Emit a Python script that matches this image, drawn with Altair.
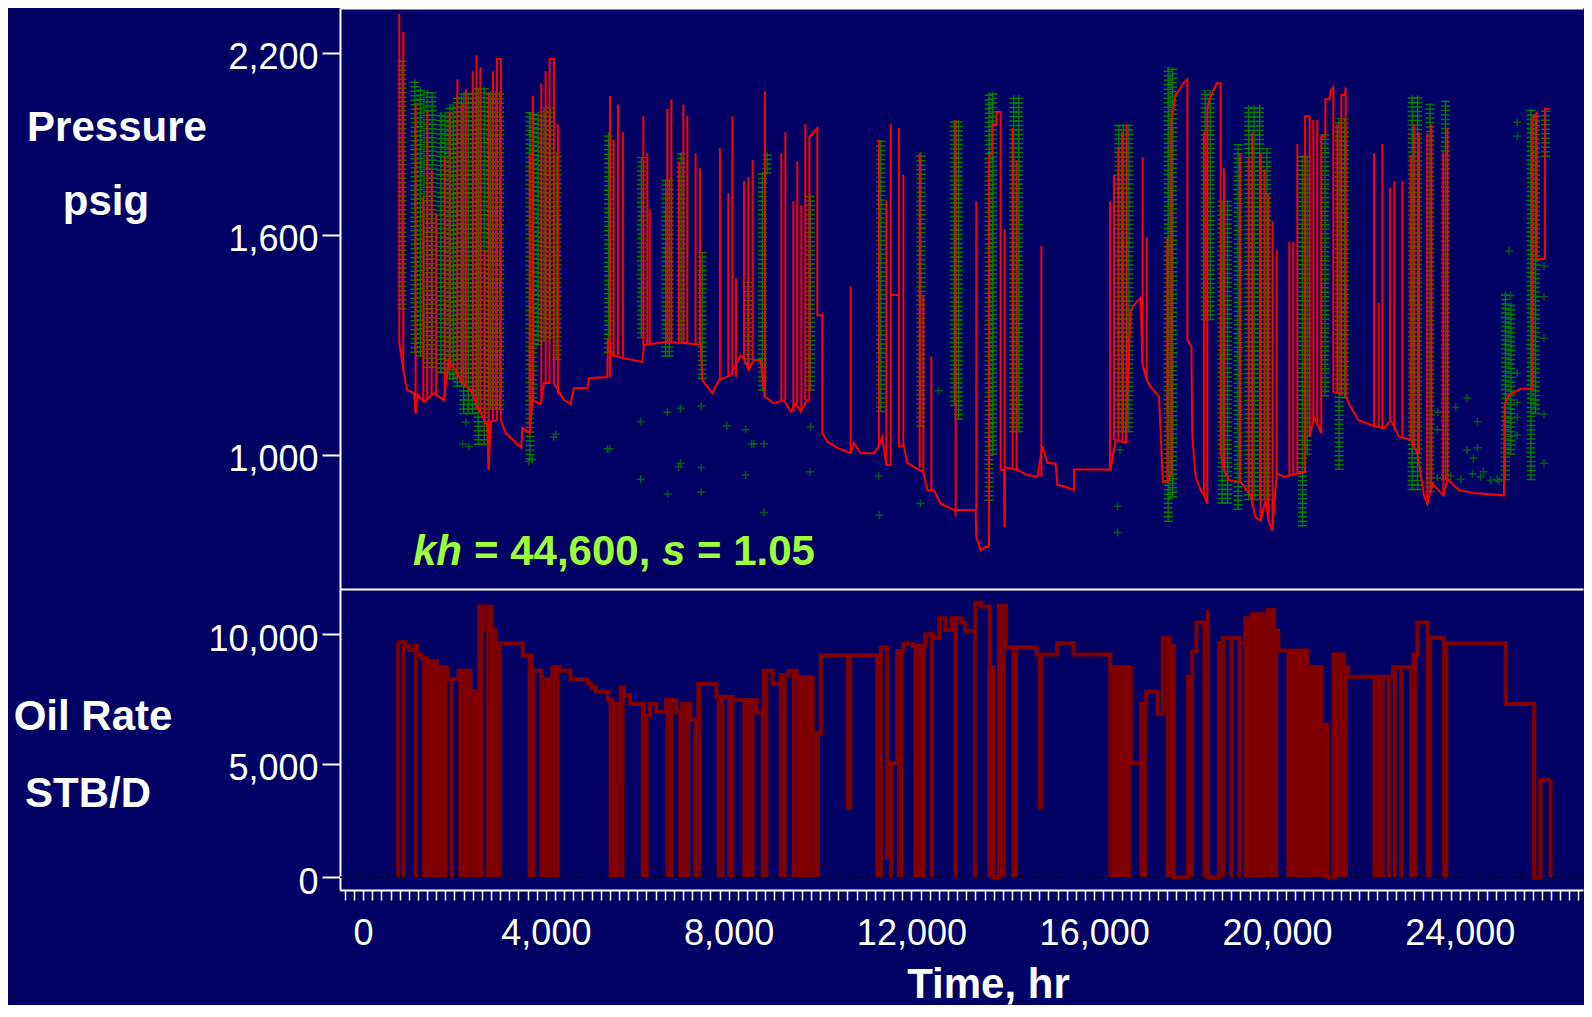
import altair as alt
import pandas as pd

# ---------------- data (time in hr, pressure in psig, rate in STB/D) ----------------
# red model pressure path
press_t = [784, 880, 967, 1112, 1149, 1200, 1331, 1550, 1769, 1878,
           2025, 2171, 2353, 2535, 2718, 2747, 2791, 2928, 2928, 3015,
           3015, 3119, 3462, 3484, 3651, 3703, 3885, 3958, 4082, 4082,
           4176, 4176, 4395, 4542, 4614, 4907, 4942, 5345, 5358, 5454,
           5708, 6111, 6146, 6658, 7022, 7387, 7424, 7643, 7788, 8044,
           8262, 8350, 8437, 8554, 8700, 8788, 8992, 9211, 9357, 9466,
           9576, 9722, 9766, 9766, 9850, 9941, 9941, 10050, 10050, 10160,
           10379, 10670, 10743, 10889, 11181, 11268, 11363, 11451, 11546, 11546,
           11727, 11727, 11837, 11911, 12093, 12261, 12349, 12493, 12640, 12931,
           13406, 13421, 13516, 13625, 13697, 13697, 13770, 13770, 13860, 13860,
           13954, 13954, 14030, 14041, 14052, 14319, 14538, 14757, 14866, 14976,
           15158, 15194, 15340, 15557, 15560, 16361, 16470, 16690, 16726, 16799,
           16908, 17018, 17055, 17150, 17237, 17418, 17505, 17601, 17689, 17689,
           17783, 17952, 18039, 18039, 18127, 18149, 18221, 18331, 18402, 18477,
           18477, 18560, 18681, 18769, 18769, 18841, 18950, 19206, 19425, 19534,
           19644, 19753, 19826, 19900, 19994, 20154, 20447, 20613, 20613, 20716,
           20716, 20812, 20970, 20970, 21060, 21060, 21150, 21177, 21235, 21235,
           21410, 21410, 21490, 21504, 21504, 21614, 21774, 22052, 22344, 22490,
           22672, 22928, 23073, 23219, 23292, 23401, 23642, 23730, 23984, 24350,
           24969, 24984, 25079, 25335, 25591, 25591, 25686, 25686, 25866, 25866,
           25954]
press_p = [1295, 1214, 1162, 1154, 1103, 1150, 1131, 1154, 1136, 1241,
           1214, 1180, 1162, 1111, 1073, 964, 1081, 1085, 2178, 2178,
           1086, 1053, 1017, 1066, 1053, 1136, 1126, 1180, 1180, 2178,
           2178, 1180, 1136, 1126, 1167, 1167, 1193, 1196, 1298, 1254,
           1246, 1236, 1282, 1290, 1287, 1282, 1188, 1154, 1188, 1201,
           1254, 1241, 1214, 1241, 1241, 1145, 1128, 1136, 1107, 1128,
           1107, 1136, 1136, 1910, 1925, 1940, 1364, 1364, 1053, 1032,
           1017, 1004, 1029, 1004, 1004, 1017, 1044, 976, 976, 1421,
           1421, 1021, 1021, 981, 969, 959, 917, 917, 886, 872,
           872, 812, 784, 791, 791, 1845, 1860, 1953, 1953, 1994,
           1994, 964, 964, 834, 970, 964, 952, 948, 1021, 981,
           979, 929, 926, 917, 965, 965, 1036, 1029, 1154, 1378,
           1399, 1413, 1233, 1188, 1171, 1145, 936, 936, 955, 1967,
           2052, 2093, 2107, 1295, 1278, 1044, 948, 917, 905, 886,
           2010, 2050, 2093, 2093, 1004, 964, 940, 936, 905, 855,
           848, 894, 844, 827, 955, 948, 955, 959, 1980, 1980,
           1044, 1094, 1053, 1913, 1913, 2038, 2038, 2069, 2079, 1158,
           1150, 2052, 2052, 2079, 1145, 1119, 1086, 1073, 1065, 1086,
           1044, 1036, 1004, 905, 886, 932, 905, 943, 917, 910,
           905, 1124, 1149, 1165, 1165, 1967, 1990, 1526, 1526, 2005,
           2005]

# red build-up spikes (time, bottom, top)
spike_t = [792, 880, 1149, 1318, 1405, 1500, 1600, 1782, 1895, 2063,
           2159, 2246, 2400, 2481, 2568, 2662, 2747, 2841, 3646, 3717,
           3900, 3994, 4264, 5402, 5483, 5577, 5686, 6133, 6220, 6271,
           6658, 6746, 6912, 7008, 7096, 7277, 7372, 7809, 7993, 8081,
           8160, 8335, 8431, 8525, 8794, 9153, 9241, 9416, 9503, 9591,
           9678, 10670, 11289, 11451, 11546, 11727, 11823, 12180, 12261, 12436,
           12968, 13421, 14041, 14216, 14303, 14844, 16346, 16433, 16529, 16617,
           16711, 17061, 17150, 17601, 18402, 18841, 19191, 19381, 19462, 19644,
           19731, 19812, 19906, 19994, 20272, 20359, 20447, 20797, 20884, 21322,
           22124, 22227, 22308, 22474, 22570, 22745, 22928, 22998, 23109, 23292,
           23380, 23642, 23730]
spike_lo = [1295, 1214, 1103, 1131, 1140, 1150, 1150, 1136, 1214, 1195,
            1180, 1170, 1150, 1111, 1100, 1075, 964, 1081, 1053, 1136,
            1126, 1180, 1150, 1196, 1254, 1254, 1246, 1282, 1282, 1285,
            1290, 1290, 1287, 1287, 1287, 1285, 1282, 1188, 1201, 1201,
            1195, 1241, 1214, 1241, 1145, 1136, 1136, 1107, 1128, 1107,
            1136, 1004, 1017, 976, 1421, 1421, 1021, 969, 959, 917,
            858, 872, 834, 968, 964, 948, 965, 1036, 1036, 1033,
            1030, 1233, 1188, 936, 905, 964, 936, 910, 880, 848,
            894, 844, 827, 955, 952, 952, 955, 1090, 1070, 1155,
            1073, 1070, 1067, 1086, 1060, 1044, 1036, 1020, 1004, 886,
            920, 905, 943]
spike_hi = [2341, 2275, 2025, 1716, 1994, 1802, 1665, 1844, 1994, 2107,
            2025, 2072, 2135, 2192, 2149, 1553, 2062, 2135, 1857, 2049,
            2093, 2135, 1953, 2049, 1900, 2020, 1926, 1980, 1857, 1678,
            2005, 2038, 1830, 2020, 1980, 1857, 1808, 1873, 1729, 1980,
            1470, 1767, 1780, 1834, 2065, 1857, 1926, 1703, 1831, 1690,
            1953, 1446, 1900, 1706, 1953, 1940, 1787, 1857, 1421, 1250,
            1967, 1703, 1617, 1940, 1834, 1565, 1703, 1787, 1873, 1926,
            1953, 1844, 1592, 1592, 1926, 1808, 1857, 1844, 1926, 1857,
            1805, 1729, 1641, 1553, 1577, 1577, 1887, 1967, 1967, 1953,
            1857, 1399, 1887, 1745, 1767, 1767, 1850, 1953, 1926, 1923,
            1953, 1860, 1940]

# green measured build-up columns (time, lowest, highest)
gcol_t = [850, 1134, 1256, 1402, 1510, 1700, 1790, 1900, 1970, 2060,
          2150, 2200, 2300, 2400, 2520, 2650, 2790, 2900, 2990, 3650,
          3720, 3830, 3960, 4100, 4240, 5370, 6090, 6620, 6700, 6960,
          7420, 8420, 8740, 8840, 9790, 11330, 12210, 12940, 13030, 13700,
          13780, 14240, 14350, 16540, 16640, 16760, 17620, 17720, 18430, 18540,
          18800, 18920, 19150, 19380, 19500, 19620, 19780, 20560, 20660, 21050,
          21360, 21480, 22960, 23080, 23350, 23690, 25000, 25120, 25560, 25660,
          25880]
gcol_lo = [1380, 1260, 1250, 1220, 1220, 1206, 1206, 1190, 1190, 1170,
           1170, 1100, 1100, 1100, 1024, 1024, 1111, 1111, 1111, 988,
           1140, 1280, 1290, 1300, 1241, 1260, 1300, 1250, 1250, 1285,
           1190, 1230, 1160, 1790, 1160, 1105, 1068, 1120, 1086, 892,
           1000, 1055, 1055, 1055, 1055, 1055, 845, 900, 1350, 1350,
           886, 886, 872, 894, 894, 894, 894, 835, 1000, 1145,
           964, 1140, 917, 917, 912, 940, 940, 1000, 940, 1100,
           1844]
gcol_hi = [2174, 2107, 2079, 2070, 2062, 1994, 1994, 2020, 2020, 2052,
           2052, 2062, 2062, 2062, 2079, 2079, 2065, 2065, 2065, 1994,
           1994, 1994, 2010, 2010, 1860, 1926, 1844, 1773, 1773, 1860,
           1547, 1470, 1795, 1860, 1725, 1900, 1860, 1967, 1967, 2062,
           2062, 2052, 2052, 1953, 1953, 1953, 2150, 2150, 2069, 2069,
           1706, 1706, 1887, 2018, 2018, 2018, 1873, 1850, 1850, 1923,
           1973, 1973, 2052, 2052, 2025, 2035, 1430, 1400, 2005, 1990,
           2005]

# isolated green measured points
gpt_t = [2178, 2247, 2316, 3622, 3700, 4170, 4213, 5345, 5397, 6074,
         6074, 6658, 6665, 6905, 6949, 6949, 7400, 7400, 7400, 7955,
         8371, 8371, 8503, 8555, 8773, 8777, 9773, 9795, 11285, 12200,
         16514, 16514, 16565, 23510, 23803, 24022, 24278, 24460, 24679, 24861,
         24160, 23910, 23520, 23510, 24390, 24160, 24390, 24300, 24520, 24820,
         25260, 25115, 25260, 25260, 25260, 25260, 25260, 25080, 25845, 25845,
         25845, 25845, 25845, 12600, 11300]
gpt_p = [1026, 1080, 1020, 984, 988, 1043, 1051, 1015, 1015, 1081,
         942, 1105, 908, 971, 1115, 980, 1121, 912, 970, 1071,
         1061, 952, 1026, 1027, 1027, 866, 960, 1068, 950, 887,
         880, 822, 1012, 945, 950, 942, 955, 948, 940, 938,
         1141, 1118, 1105, 1061, 1081, 1012, 1017, 992, 960, 942,
         1130, 1420, 1206, 1093, 1048, 1960, 1913, 1550, 1506, 1416,
         1300, 1100, 980, 1160, 860]

# oil rate history (step levels)
rate_t = [766, 915, 1003, 1136, 1180, 1267, 1399, 1619, 1839, 2085,
          2349, 2543, 2631, 2736, 2806, 2894, 2981, 3491, 3686, 3905,
          4143, 4301, 4540, 4917, 4987, 5093, 5356, 5444, 5577, 5638,
          5708, 5840, 6148, 6280, 6411, 6632, 6851, 6983, 7159, 7335,
          7731, 8083, 8610, 8768, 8961, 9138, 9313, 9488, 9840, 10017,
          10610, 10660, 11248, 11335, 11469, 11557, 11688, 11819, 12040, 12303,
          12478, 12611, 12742, 12874, 13082, 13171, 13397, 13530, 13710, 13799,
          13915, 14068, 14740, 14810, 14850, 15189, 15548, 16354, 16802, 17026,
          17142, 17385, 17501, 17654, 17744, 18057, 18147, 18237, 18488, 18729,
          18819, 19178, 19311, 19447, 19806, 19939, 20029, 20657, 20970, 21103,
          21239, 21462, 21552, 22539, 22986, 23075, 23301, 23657, 25004, 25630,
          25766, 25989]
rate_q = [9700, 9560, 9410, 9560, 9240, 9100, 8980, 8760, 8300, 8620,
          7850, 11030, 10160, 11030, 10160, 7390, 9660, 9200, 8620, 8300,
          8760, 8620, 8300, 8130, 7990, 7830, 7510, 7350, 4350, 7990,
          7700, 7350, 6920, 7350, 7050, 7510, 7050, 7350, 6730, 8130,
          7630, 7510, 7020, 8620, 8130, 8460, 8620, 8380, 6220, 9200,
          3230, 9200, 9000, 9500, 1000, 5030, 9360, 9630, 9560, 10000,
          9860, 10600, 10160, 10600, 10440, 10130, 11180, 11030, 8760, 0,
          11050, 9500, 9240, 3230, 9240, 9660, 9240, 8760, 5030, 7350,
          7830, 6990, 9870, 9560, 0, 8400, 9360, 10440, 0, 9660,
          9870, 9660, 10600, 10750, 10900, 10130, 9390, 8760, 6560, 0,
          9240, 8760, 8400, 8760, 9240, 10440, 9870, 9660, 7350, 0,
          4350, 4350]

# single shut-ins (rate drops to zero)
drop_t = [766, 880, 1150, 1940, 7780, 7860, 8745, 8825, 11250, 11330,
          11550, 12450, 12960, 13390, 13700, 13790, 17030, 17110, 18060, 18140,
          18488, 18819, 18998, 19178, 19311, 22450, 22580, 22720, 25630, 25766,
          25989]
drop_q = [9700, 9560, 9560, 8300, 7630, 7630, 7020, 8620, 9000, 9500,
          5030, 10000, 10600, 10130, 8760, 8760, 7350, 7350, 8400, 8400,
          10900, 9870, 9870, 9660, 10600, 8400, 8760, 8760, 7350, 4350,
          4350]

# periods with many short shut-ins (solid blocks)
blk_t0 = [1290, 1399, 1619, 2085, 2349, 2543, 2690, 2736, 2806, 2894,
          2981, 3600, 3686, 3860, 3905, 4143, 5372, 5444, 5577, 5638,
          6074, 6148, 6614, 6632, 6895, 6983, 7229, 7335, 7967, 8083,
          8302, 9094, 9138, 9383, 9488, 9840, 11688, 12040, 13915, 14185,
          16310, 16354, 17565, 17654, 18370, 19357, 19447, 19806, 19939, 20208,
          20657, 20970, 21239, 21462, 22090, 22896, 22986, 23255, 23615]
blk_t1 = [1399, 1619, 1839, 2349, 2543, 2631, 2736, 2806, 2894, 2981,
          3030, 3686, 3773, 3905, 4143, 4301, 5444, 5577, 5638, 5722,
          6148, 6250, 6632, 6780, 6983, 7159, 7335, 7396, 8083, 8127,
          8567, 9138, 9269, 9488, 9840, 10000, 11819, 12303, 14068, 14337,
          16354, 16802, 17654, 17744, 18488, 19447, 19806, 19939, 20029, 20657,
          20970, 21103, 21462, 21552, 22359, 22986, 23075, 23390, 23750]
blk_q = [9100, 8980, 8760, 8620, 7850, 11030, 10160, 11030, 10160, 7390,
         9660, 9200, 8620, 8620, 8300, 8760, 7510, 7350, 4350, 7990,
         7350, 6920, 7050, 7510, 7050, 7350, 6730, 8130, 7630, 7510,
         7510, 8130, 8460, 8620, 8380, 6220, 9360, 9560, 11050, 9500,
         9240, 8760, 9870, 9560, 10440, 10600, 10750, 10900, 10130, 9390,
         8760, 6560, 9240, 8760, 8400, 8760, 9240, 9870, 9660]

p_ticks = [1000, 1600, 2200]
q_ticks = [0, 5000, 10000]
x_label_ticks = [0, 4000, 8000, 12000, 16000, 20000, 24000]
x_minor_ticks = list(range(-400, 26601, 200))

for a, b in [(press_t, press_p), (spike_t, spike_lo), (spike_t, spike_hi),
             (gcol_t, gcol_lo), (gcol_t, gcol_hi), (gpt_t, gpt_p),
             (rate_t, rate_q), (drop_t, drop_q), (blk_t0, blk_t1), (blk_t0, blk_q)]:
    assert len(a) == len(b), (len(a), len(b))

# ---------------- style ----------------
BG = "#000064"
WHITE = "#ffffff"
RED = "#ff0000"
GREEN = "#008000"
MAROON = "#800000"
LIME = "#9cff3a"
FONT = "Liberation Sans"

W = 1243
H_TOP = 581
H_BOT = 301

xs = alt.Scale(domain=[-506, 26699], nice=False, zero=False)
ps = alt.Scale(type="sqrt", domain=[703.5, 2363], nice=False, zero=False)
qs = alt.Scale(type="pow", exponent=1.1, domain=[-689, 11680], nice=False, zero=False)

ylab = dict(labelColor=WHITE, labelFont=FONT, labelFontSize=36, tickSize=18, tickWidth=2,
            tickColor=WHITE, domainColor=WHITE, domainWidth=2, labelPadding=4, labelOffset=5,
            grid=False, labelFlush=False, labelOverlap=False)
press_axis = alt.Axis(values=p_ticks, format=",.0f", **ylab)
rate_axis = alt.Axis(values=q_ticks, format=",.0f", **ylab)

x_top_axis = alt.Axis(orient="top", labels=False, ticks=False, domain=True,
                      domainColor=WHITE, domainWidth=2, grid=False)
label_list = ",".join(str(v) for v in x_label_ticks)
x_bottom_axis = alt.Axis(
    orient="bottom", values=x_minor_ticks,
    labelExpr=f"indexof([{label_list}], datum.value) >= 0 ? format(datum.value, ',') : ''",
    tickSize=10, tickWidth=1.5, tickColor=WHITE, domainColor=WHITE, domainWidth=2,
    labelColor=WHITE, labelFont=FONT, labelFontSize=36, labelPadding=16,
    labelFlush=False, labelOverlap=False, grid=False,
    title="Time, hr", titleColor=WHITE, titleFont=FONT, titleFontSize=42,
    titleFontWeight="bold", titleX=648, titleY=107, titleBaseline="alphabetic",
    titleAlign="center")


def text_layer(label, x, y, size=42, style="normal", color=WHITE, align="center"):
    return alt.Chart(pd.DataFrame({"s": [label]})).mark_text(
        text=label, font=FONT, fontSize=size, fontWeight="bold", fontStyle=style,
        color=color, align=align, baseline="alphabetic"
    ).encode(x=alt.value(x), y=alt.value(y))


# ---------------- top panel: pressure ----------------
df_press = pd.DataFrame({"t": press_t, "p": press_p}).reset_index()
df_spk = pd.DataFrame({"t": spike_t, "lo": spike_lo, "hi": spike_hi})
df_gcol = pd.DataFrame({"t": gcol_t, "lo": gcol_lo, "hi": gcol_hi})
df_gpt = pd.DataFrame({"t": gpt_t, "p": gpt_p})


def xt(f):
    return alt.X(f, scale=xs, axis=x_top_axis, title=None)


def yp(f):
    return alt.Y(f, scale=ps, axis=press_axis, title=None)


g_ticks = alt.Chart(df_gcol).mark_rule(
    color=GREEN, strokeWidth=9, strokeDash=[1.5, 3], clip=True
).encode(x=xt("t:Q"), y=yp("lo:Q"), y2="hi:Q")
g_stem = alt.Chart(df_gcol).mark_rule(color=GREEN, strokeWidth=1.3, clip=True).encode(
    x=xt("t:Q"), y=yp("lo:Q"), y2="hi:Q")
g_pts = alt.Chart(df_gpt).mark_point(
    shape="M-1,0L1,0M0,-1L0,1", size=64, filled=False, color=GREEN, strokeWidth=1.5, clip=True
).encode(x=xt("t:Q"), y=yp("p:Q"))
red_line = alt.Chart(df_press).mark_line(color=RED, strokeWidth=2, clip=True).encode(
    x=xt("t:Q"), y=yp("p:Q"), order="index:Q")
red_spk = alt.Chart(df_spk).mark_rule(color=RED, strokeWidth=2, clip=True).encode(
    x=xt("t:Q"), y=yp("lo:Q"), y2="hi:Q")

annot = [
    text_layer("kh", 73, 557, style="italic", color=LIME, align="left"),
    text_layer("= 44,600,", 134, 557, color=LIME, align="left"),
    text_layer("s", 322, 557, style="italic", color=LIME, align="left"),
    text_layer("= 1.05", 357, 557, color=LIME, align="left"),
]
top_titles = [
    text_layer("Pressure", -223, 133),
    text_layer("psig", -234, 207),
]

top = alt.layer(g_ticks, g_stem, g_pts, red_line, red_spk, *annot, *top_titles).properties(
    width=W, height=H_TOP)

# ---------------- bottom panel: oil rate ----------------
df_rate = pd.DataFrame({"t": rate_t, "q": rate_q})
df_drop = pd.DataFrame({"t": drop_t, "q": drop_q})
df_blk = pd.DataFrame({"t0": blk_t0, "t1": blk_t1, "q": blk_q})
df_zero = pd.DataFrame({"z": [0]})


def yq(f):
    return alt.Y(f, scale=qs, axis=rate_axis, title=None)


zero_line = alt.Chart(df_zero).mark_rule(
    color="#000000", strokeWidth=1.5, strokeDash=[10, 4, 2, 4]
).encode(y=yq("z:Q"))
blocks = alt.Chart(df_blk).mark_rect(color=MAROON, clip=True).encode(
    x=alt.X("t0:Q", scale=xs, axis=x_top_axis, title=None), x2="t1:Q",
    y=yq("q:Q"), y2=alt.datum(0))
drops = alt.Chart(df_drop).mark_rule(color=MAROON, strokeWidth=4, clip=True).encode(
    x=alt.X("t:Q", scale=xs, axis=None), y=yq("q:Q"), y2=alt.datum(0))
env = alt.Chart(df_rate).mark_line(
    color=MAROON, strokeWidth=4, interpolate="step-after", clip=True
).encode(x=alt.X("t:Q", scale=xs, axis=x_bottom_axis), y=yq("q:Q"))

bot_titles = [
    text_layer("Oil Rate", -247, 141),
    text_layer("STB/D", -252, 218),
]

bottom = alt.layer(zero_line, blocks, drops, env, *bot_titles).resolve_axis(
    x="independent").properties(width=W, height=H_BOT)

chart = alt.vconcat(top, bottom, spacing=0).properties(
    padding={"left": 5, "top": 0, "right": 0, "bottom": 0}
).configure(background=BG).configure_view(strokeWidth=0)

chart.save("out.html", embed_options={"renderer": "svg", "actions": False})
